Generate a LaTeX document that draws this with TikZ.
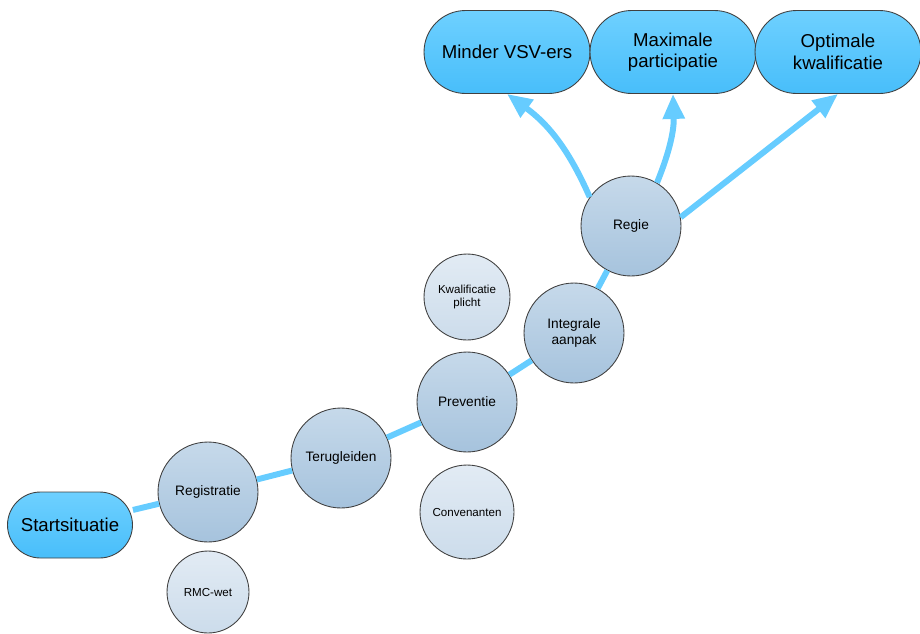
\documentclass[tikz,border=0pt]{standalone}
\usepackage{fontspec}
\setmainfont{Liberation Sans}
\usetikzlibrary{arrows.meta}

\definecolor{linkblue}{RGB}{102,204,255}
\definecolor{goaltop}{RGB}{110,208,255}
\definecolor{goalbot}{RGB}{72,190,250}
\definecolor{steptop}{RGB}{198,217,234}
\definecolor{stepbot}{RGB}{166,195,221}
\definecolor{sidetop}{RGB}{226,235,244}
\definecolor{sidebot}{RGB}{204,220,235}

\begin{document}
\begin{tikzpicture}[x=0.02cm,y=-0.02cm,
	goal/.style={draw=black!75, line width=0.5pt, rounded corners=0.83cm, top color=goaltop, bottom color=goalbot,
		minimum width=3.32cm, minimum height=1.66cm, align=center, font=\fontsize{10.6}{12.3}\selectfont},
	stepnode/.style={circle, draw=black!75, line width=0.5pt, top color=steptop, bottom color=stepbot,
		minimum size=2cm, inner sep=0pt, align=center, font=\fontsize{7.8}{9.4}\selectfont},
	sidenode/.style={circle, draw=black!75, line width=0.5pt, top color=sidetop, bottom color=sidebot,
		inner sep=0pt, align=center, font=\fontsize{6.6}{7.5}\selectfont},
	link/.style={draw=linkblue, line width=3.4pt},
	goallink/.style={link, -{Triangle[length=0.5cm,width=0.42cm]}}]
	\useasboundingbox (0,0) rectangle (920,633);
	% path from start to regie
	\node[goal, rounded corners=0.66cm, minimum width=2.5cm, minimum height=1.32cm] (start) at (70,525) {Startsituatie};
	\node[stepnode] (registratie) at (208,492) {Registratie};
	\node[stepnode] (terugleiden) at (341,458) {Terugleiden};
	\node[stepnode] (preventie) at (467,402) {Preventie};
	\node[stepnode] (integrale) at (574,333) {Integrale\\aanpak};
	\node[stepnode] (regie) at (631,226) {Regie};
	% side circles
	\node[sidenode, minimum size=1.64cm] (rmc) at (208,592) {RMC-wet};
	\node[sidenode, minimum size=1.88cm] (convenanten) at (467,512) {Convenanten};
	\node[sidenode, minimum size=1.72cm] (kwalificatie) at (467,297) {Kwalificatie\\plicht};
	% goals
	\node[goal] (minder) at (507,52) {Minder VSV-ers};
	\node[goal] (maximale) at (673,52) {Maximale\\participatie};
	\node[goal] (optimale) at (838,52) {Optimale\\kwalificatie};
	\foreach \a/\b in {start/registratie,registratie/terugleiden,terugleiden/preventie,preventie/integrale,integrale/regie}
		\draw[link] (\a) -- (\b);
	\draw[goallink] (regie.145) to[bend right=15] (minder.south);
	\draw[goallink] (regie.59) to[bend right=12] (maximale.south);
	\draw[goallink] (regie.10) -- (optimale.south);
\end{tikzpicture}
\end{document}
